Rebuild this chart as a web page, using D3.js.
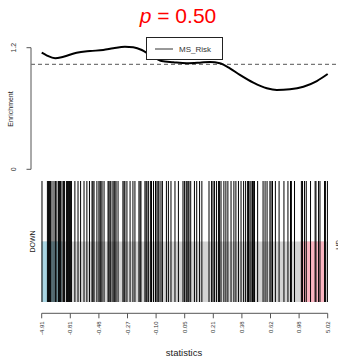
<!DOCTYPE html>
<html><head><meta charset="utf-8">
<script src="https://cdn.jsdelivr.net/npm/d3@7"></script>
<style>body{margin:0;background:#fff}svg{display:block;font-family:"Liberation Sans",Arial,sans-serif}</style>
</head><body><div id="chart"></div>
<script>
// ---- data ----
const titleP = "0.50";
const seriesName = "MS_Risk";
const yTickValues = [0, 1.16];
const yTickLabels = ["0", "1.2"];
const expectedLevel = 1;
const xTickPositions = [0,10,20,30,40,50,60,70,80,90,100]; // % of ranked list
const xTickLabels = ["-4.91","-0.81","-0.48","-0.27","-0.10","0.05","0.21","0.38","0.62","0.98","5.02"];
const curveRank = [0,1.7,4.7,7.6,12.2,16.9,21.5,25.0,29.1,32.0,35.0,37.9,41.9,46.0,50.7,55.3,58.8,62.3,65.8,69.3,74.0,78.7,82.2,86.8,91.5,96.2,100];
const curveEnrichment = [1.112,1.087,1.059,1.074,1.112,1.128,1.138,1.154,1.169,1.164,1.138,1.090,1.033,1.021,1.011,1.017,1.024,1.011,0.963,0.900,0.826,0.773,0.756,0.763,0.788,0.842,0.909];
const geneRanks = [0.1,2.0,2.4,2.7,3.1,3.6,4.3,4.8,5.3,5.9,6.2,6.6,7.1,7.6,8.0,8.7,9.0,9.4,9.7,10.1,10.4,11.6,12.7,13.6,14.8,15.8,
 16.7,17.6,17.9,18.3,19.3,20.0,20.4,20.7,21.1,21.8,23.2,23.5,23.9,24.2,24.9,25.3,25.6,26.0,26.7,28.4,28.8,29.1,29.8,30.9,31.9,32.6,
 34.0,34.4,34.7,36.1,36.5,36.8,37.3,38.0,38.4,39.1,39.8,40.3,40.7,41.0,41.7,42.2,43.6,44.3,45.2,46.6,47.8,49.4,
 49.9,50.5,50.8,51.2,51.5,52.1,53.4,54.2,55.2,56.0,58.5,59.4,59.9,60.4,61.1,61.8,62.2,62.7,63.7,64.4,65.1,66.2,
 67.2,67.9,68.8,69.7,70.6,71.3,72.0,72.3,72.8,73.2,73.7,74.0,74.4,75.5,77.4,78.1,78.8,79.8,80.2,80.7,81.7,83.0,
 84.7,86.1,87.0,87.3,88.4,90.8,91.2,91.9,92.5,94.0,95.6,95.9,96.8,97.3,98.9,99.2,99.9];
const downRegion = [0, 7.0];
const upRegion = [90.6, 99.1];

// ---- layout ----
const W = 338, H = 361;
const svg = d3.select("#chart").append("svg").attr("width", W).attr("height", H);
const x = d3.scaleLinear().domain([0, 100]).range([41.7, 327.7]);
const y = d3.scaleLinear().domain([0, 1.16]).range([169.3, 47.7]);
const yb = d3.scaleLinear().domain([0, 1]).range([302, 181]);

// title
const t = svg.append("text").attr("x", 178).attr("y", 23).attr("text-anchor", "middle")
  .attr("fill", "#ff0000").attr("font-size", 21);
t.append("tspan").attr("font-style", "italic").text("p");
t.append("tspan").text(" = " + titleP);

// y axis
svg.append("line").attr("x1", 31).attr("x2", 31).attr("y1", y(yTickValues[0])).attr("y2", y(yTickValues[1]))
  .attr("stroke", "#555").attr("stroke-width", 1);
yTickValues.forEach((v, i) => {
  svg.append("line").attr("x1", 26.5).attr("x2", 31).attr("y1", y(v)).attr("y2", y(v)).attr("stroke", "#555");
  svg.append("text").attr("transform", `translate(16,${y(v)}) rotate(-90)`).attr("text-anchor", "middle")
    .attr("font-size", 7).attr("fill", "#333").text(yTickLabels[i]);
});
svg.append("text").attr("transform", "translate(13,109) rotate(-90)").attr("text-anchor", "middle")
  .attr("font-size", 7).attr("fill", "#222").text("Enrichment");

// expected line
svg.append("line").attr("x1", 31).attr("x2", W).attr("y1", y(expectedLevel)).attr("y2", y(expectedLevel))
  .attr("stroke", "#777").attr("stroke-width", 1.3).attr("stroke-dasharray", "4,3");

// curve
const pts = curveRank.map((r, i) => [r, curveEnrichment[i]]);
svg.append("path").datum(pts)
  .attr("d", d3.line().x(d => x(d[0])).y(d => y(d[1])).curve(d3.curveMonotoneX))
  .attr("fill", "none").attr("stroke", "#000").attr("stroke-width", 2);

// legend
const lg = svg.append("g");
lg.append("rect").attr("x", 146.5).attr("y", 37.5).attr("width", 76).attr("height", 22)
  .attr("fill", "#fff").attr("stroke", "#222").attr("stroke-width", 1);
lg.append("line").attr("x1", 155).attr("x2", 173).attr("y1", 49).attr("y2", 49).attr("stroke", "#333").attr("stroke-width", 1);
lg.append("text").attr("x", 179).attr("y", 52).attr("font-size", 8).attr("fill", "#333").text(seriesName);

// barcode background
svg.append("rect").attr("x", x(0)).attr("y", yb(0.5)).attr("width", x(100) - x(0)).attr("height", yb(0) - yb(0.5))
  .attr("fill", "#d3d3d3");
svg.append("rect").attr("x", x(downRegion[0])).attr("y", yb(0.5)).attr("width", x(downRegion[1]) - x(downRegion[0]))
  .attr("height", yb(0) - yb(0.5)).attr("fill", "#a9d6e3");
svg.append("rect").attr("x", x(upRegion[0])).attr("y", yb(0.5)).attr("width", x(upRegion[1]) - x(upRegion[0]))
  .attr("height", yb(0) - yb(0.5)).attr("fill", "#f9b4c0");

// bars
svg.append("g").selectAll("line").data(geneRanks).join("line")
  .attr("x1", d => x(d)).attr("x2", d => x(d)).attr("y1", yb(0)).attr("y2", yb(1))
  .attr("stroke", "#000").attr("stroke-width", 1);

// DOWN / UP
svg.append("text").attr("transform", "translate(35,241.5) rotate(-90)").attr("text-anchor", "middle")
  .attr("font-size", 7).attr("fill", "#222").text("DOWN");
svg.append("text").attr("transform", "translate(340.5,245) rotate(-90)").attr("text-anchor", "middle")
  .attr("font-size", 7).attr("fill", "#222").text("UP");

// x axis
const ax = svg.append("g").attr("transform", "translate(0,313.3)");
ax.append("line").attr("x1", x(0)).attr("x2", x(100)).attr("stroke", "#555");
xTickPositions.forEach((p, i) => {
  ax.append("line").attr("x1", x(p)).attr("x2", x(p)).attr("y1", 0).attr("y2", 5).attr("stroke", "#555");
  ax.append("text").attr("transform", `translate(${x(p) + 2},8) rotate(-90)`).attr("text-anchor", "end")
    .attr("font-size", 6).attr("fill", "#333").text(xTickLabels[i]);
});
svg.append("text").attr("x", 184).attr("y", 356).attr("text-anchor", "middle").attr("font-size", 9.5)
  .attr("fill", "#222").text("statistics");
</script></body></html>
